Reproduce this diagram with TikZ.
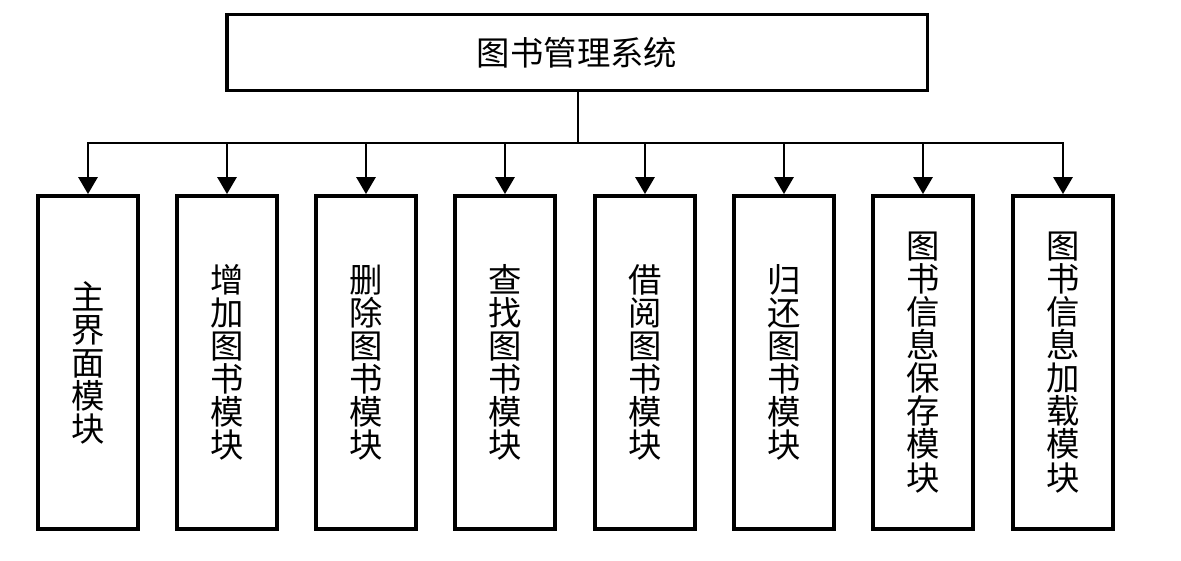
\documentclass[tikz,border=0pt]{standalone}
\usepackage{fontspec}
\usepackage{tikz}
\usetikzlibrary{arrows.meta,positioning}
\newfontfamily\cjk{Noto Sans CJK SC}

\begin{document}
\begin{tikzpicture}[x=0.02cm,y=-0.02cm,
          line cap=butt,line join=miter,
          sysbox/.style={draw=black,line width=2.2pt,fill=white,minimum width=14.02cm,
                         minimum height=1.52cm,inner sep=0pt,
                         font=\cjk\fontsize{19}{19}\selectfont},
          modbox/.style={draw=black,line width=2.2pt,fill=white,minimum width=2.0cm,
                         minimum height=6.66cm,inner sep=0pt,align=center,
                         font=\cjk\fontsize{19}{18.8}\selectfont},
          link/.style={draw=black,line width=1.6pt},
          tip/.style={-{Triangle[length=0.34cm,width=0.38cm]}}]
        \useasboundingbox (0,0) rectangle (1181,561);
        \fill[white] (0,0) rectangle (1181,561);

        \node[sysbox] (sys) at (577,52.5) {图书管理系统};
        \coordinate (bus) at (578,143);
        \draw[link] (sys.south -| bus) -- (bus);

        % eight sub-modules, one column of characters each
        \foreach \i/\x/\name in {1/88/{主\\界\\面\\模\\块},
                                 2/227/{增\\加\\图\\书\\模\\块},
                                 3/366/{删\\除\\图\\书\\模\\块},
                                 4/505/{查\\找\\图\\书\\模\\块},
                                 5/645/{借\\阅\\图\\书\\模\\块},
                                 6/784/{归\\还\\图\\书\\模\\块},
                                 7/923/{图\\书\\信\\息\\保\\存\\模\\块},
                                 8/1063/{图\\书\\信\\息\\加\\载\\模\\块}}
        {
          \node[modbox] (m\i) at (\x,362.5) {\name};
          \draw[link,tip] (bus) -| (m\i.north);
        }
      \end{tikzpicture}
\end{document}
